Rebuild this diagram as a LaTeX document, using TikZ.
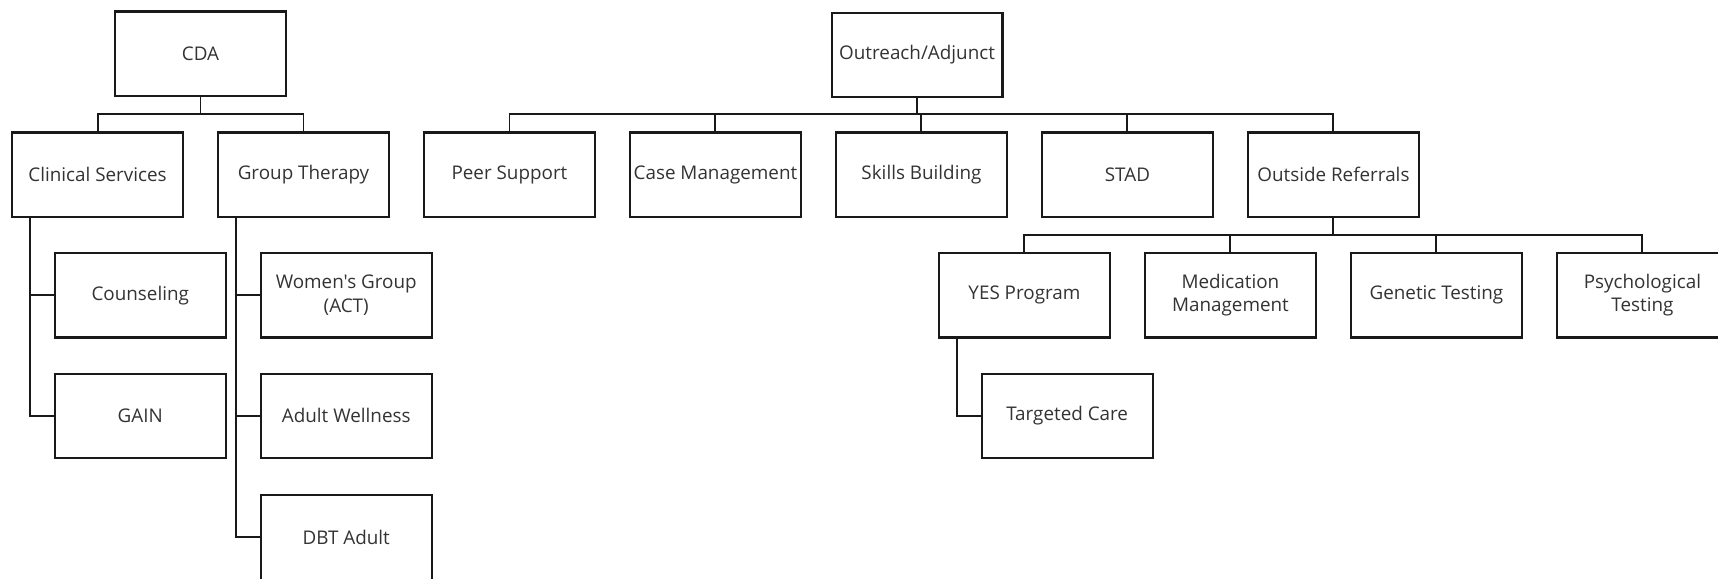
\documentclass[tikz,border=0pt]{standalone}
\usepackage{fontspec}
\newfontfamily\labelfont{Open Sans}
\begin{document}
\begin{tikzpicture}[x=1pt,y=-1pt,
  box/.style={draw=black!90, line width=2pt, minimum width=156pt, minimum height=77pt,
    inner sep=0pt, align=center, font=\labelfont\fontsize{17.2}{21.5}\selectfont, text=black!80},
  conn/.style={draw=black!90, line width=1.8pt}]
\useasboundingbox (0,0) rectangle (1568,528);
% left tree
\node[box] (cda) at (183,49) {CDA};
\node[box] (cs) at (89,159.5) {Clinical Services};
\node[box] (gt) at (277,159.5) {Group Therapy};
\node[box] (couns) at (128,269.5) {Counseling};
\node[box] (gain) at (128,379.5) {GAIN};
\node[box] (wg) at (316,269.5) {Women's Group\\(ACT)};
\node[box] (aw) at (316,379.5) {Adult Wellness};
\node[box] (dbt) at (316,490.5) {DBT Adult};
\coordinate (b1) at (183,104);
\draw[conn] (cda.south) -- (b1);
\draw[conn] (b1) -| (cs.north);
\draw[conn] (b1) -| (gt.north);
\draw[conn] ([xshift=-62pt]cs.south) |- (couns.west);
\draw[conn] ([xshift=-62pt]cs.south) |- (gain.west);
\draw[conn] ([xshift=-62pt]gt.south) |- (wg.west);
\draw[conn] ([xshift=-62pt]gt.south) |- (aw.west);
\draw[conn] ([xshift=-62pt]gt.south) |- (dbt.west);
% right tree
\node[box] (out) at (837,50) {Outreach/Adjunct};
\node[box] (peer) at (465,159.5) {Peer Support};
\node[box] (case) at (653,159.5) {Case Management};
\node[box] (skills) at (841,159.5) {Skills Building};
\node[box] (stad) at (1029,159.5) {STAD};
\node[box] (ref) at (1217,159.5) {Outside Referrals};
\node[box] (yes) at (935,269.5) {YES Program};
\node[box] (med) at (1123,269.5) {Medication\\Management};
\node[box] (gen) at (1311,269.5) {Genetic Testing};
\node[box] (psy) at (1499,269.5) {Psychological\\Testing};
\node[box] (tc) at (974,379.5) {Targeted Care};
\coordinate (b2) at (837,104);
\draw[conn] (out.south) -- (b2);
\draw[conn] (b2) -| (peer.north);
\draw[conn] (b2) -| (case.north);
\draw[conn] (b2) -| (skills.north);
\draw[conn] (b2) -| (stad.north);
\draw[conn] (b2) -| (ref.north);
\coordinate (b3) at (1217,214.5);
\draw[conn] (ref.south) -- (b3);
\draw[conn] (b3) -| (yes.north);
\draw[conn] (b3) -| (med.north);
\draw[conn] (b3) -| (gen.north);
\draw[conn] (b3) -| (psy.north);
\draw[conn] ([xshift=-62pt]yes.south) |- (tc.west);
\end{tikzpicture}
\end{document}
